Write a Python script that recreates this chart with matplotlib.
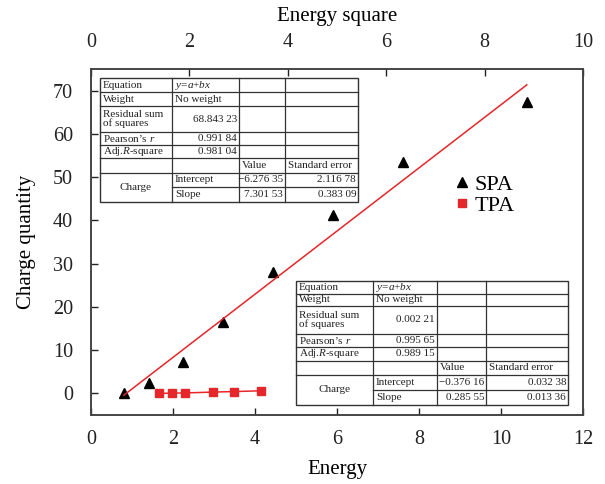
import matplotlib
matplotlib.use("Agg")
import matplotlib.pyplot as plt
import matplotlib.transforms as mtransforms
from matplotlib.patches import Rectangle
from matplotlib.lines import Line2D
import numpy as np

plt.rcParams['font.family'] = ['Liberation Serif', 'DejaVu Serif']
plt.rcParams['mathtext.fontset'] = 'custom'
plt.rcParams['mathtext.rm'] = 'Liberation Serif'
plt.rcParams['mathtext.it'] = 'Liberation Serif:italic'

# data
spa_energy = [0.80, 1.41, 2.24, 3.22, 4.44, 5.90, 7.61, 10.63]
spa_charge = [0.2, 2.5, 7.2, 16.4, 28.0, 41.2, 53.4, 67.3]
spa_fit = (-6.27635, 7.30153)

tpa_energy_sq = [1.38, 1.65, 1.91, 2.48, 2.91, 3.46]
tpa_charge = [0.0, 0.05, 0.1, 0.3, 0.42, 0.6]

spa_table = [
    ["Equation", "$y$=$a$+$bx$", "", ""],
    ["Weight", "No weight", "", ""],
    ["Residual sum\nof squares", "68.843 23", "", ""],
    ["Pearson\u2019s $r$", "0.991 84", "", ""],
    ["Adj.$R$-square", "0.981 04", "", ""],
    ["", "", "Value", "Standard error"],
    ["Charge", "Intercept", "\u22126.276 35", "2.116 78"],
    ["", "Slope", "7.301 53", "0.383 09"],
]
tpa_table = [
    ["Equation", "$y$=$a$+$bx$", "", ""],
    ["Weight", "No weight", "", ""],
    ["Residual sum\nof squares", "0.002 21", "", ""],
    ["Pearson\u2019s $r$", "0.995 65", "", ""],
    ["Adj.$R$-square", "0.989 15", "", ""],
    ["", "", "Value", "Standard error"],
    ["Charge", "Intercept", "\u22120.376 16", "0.032 38"],
    ["", "Slope", "0.285 55", "0.013 36"],
]

W, H = 605, 484
fig = plt.figure(figsize=(W / 100, H / 100), dpi=100)
px = mtransforms.Affine2D().scale(1 / W, -1 / H).translate(0, 1) + fig.transFigure

L, R, T, B = 91, 583, 69, 415
ax = fig.add_axes([L / W, 1 - B / H, (R - L) / W, (B - T) / H])
ax2 = ax.twiny()

red = '#e5262a'
ax.plot(spa_energy, spa_charge, linestyle='none', marker='^', color='black', ms=7)
xs = np.array([spa_energy[0], spa_energy[-1]])
ax.plot(xs, spa_fit[0] + spa_fit[1] * xs, color=red, lw=1.1)
ax2.plot(tpa_energy_sq, tpa_charge, '-s', color=red, ms=6, lw=1.1)

ax.set_xlim(0, 12)
ax.set_ylim(-5, 75)
ax2.set_xlim(0, 10)
ax2.set_ylim(-5, 75)
ax.set_xticks(range(0, 13, 2))
ax.set_yticks(range(0, 71, 10))
ax2.set_xticks(range(0, 11, 2))

for a in (ax, ax2):
    a.tick_params(direction='in', length=5, width=1, labelsize=14.5, colors='#222222')
    for s in a.spines.values():
        s.set_linewidth(1.2)
        s.set_color('#444444')
ax.tick_params(axis='x', pad=11)
ax.tick_params(axis='y', pad=13)
ax2.tick_params(axis='x', pad=12)

ax.set_xlabel('Energy', fontsize=15, labelpad=8)
ax.set_ylabel('Charge quantity', fontsize=15, labelpad=12)
ax2.set_xlabel('Energy square', fontsize=15, labelpad=9)

handles = [Line2D([], [], linestyle='none', marker='^', color='black', ms=7),
           Line2D([], [], linestyle='none', marker='s', color=red, ms=6)]
ax.legend(handles, ['SPA', 'TPA'], loc='upper left',
          bbox_to_anchor=((455 - L) / (R - L), 1 - (174 - T) / (B - T)),
          frameon=False, fontsize=16, handlelength=0.6, handletextpad=0.3, labelspacing=0.05,
          borderpad=0, borderaxespad=0)


def draw_table(rows, colx, rowy, x_right):
    edges = list(colx) + [x_right]
    ec = '#333333'
    fig.patches.append(Rectangle((edges[0], rowy[0]), edges[-1] - edges[0], rowy[-1] - rowy[0],
                                 transform=px, facecolor='white', edgecolor=ec, lw=1.0))
    for i in range(1, len(rowy) - 1):
        x0 = edges[1] if i == len(rowy) - 2 else edges[0]
        fig.add_artist(Line2D([x0, edges[-1]], [rowy[i], rowy[i]], transform=px, color=ec, lw=0.9))
    for j in range(1, len(edges) - 1):
        fig.add_artist(Line2D([edges[j], edges[j]], [rowy[0], rowy[-1]], transform=px, color=ec, lw=0.9))
    for i, row in enumerate(rows):
        yc = (rowy[i] + rowy[i + 1]) / 2
        for j, txt in enumerate(row):
            if not txt:
                continue
            if j == 0 and txt == "Charge":
                fig.text((edges[0] + edges[1]) / 2, rowy[i + 1], txt, transform=px, ha='center', va='center',
                         fontsize=8.0, color='#222222')
                continue
            numeric = txt[0].isdigit() or txt[0] == '\u2212'
            if numeric:
                fig.text(edges[j + 1] - 2, yc, txt, transform=px, ha='right', va='center', fontsize=8.0,
                         color='#222222')
            else:
                fig.text(edges[j] + 3, yc, txt, transform=px, ha='left', va='center', fontsize=8.0,
                         color='#222222', linespacing=0.9)


draw_table(spa_table, [100, 172, 239, 285], [78, 92, 106, 132, 145, 158, 173, 187, 202], 358)
draw_table(tpa_table, [296, 373, 437, 486], [281, 294, 306, 334, 347, 361, 375, 390, 405], 568)

fig.savefig('out.png', dpi=100)
